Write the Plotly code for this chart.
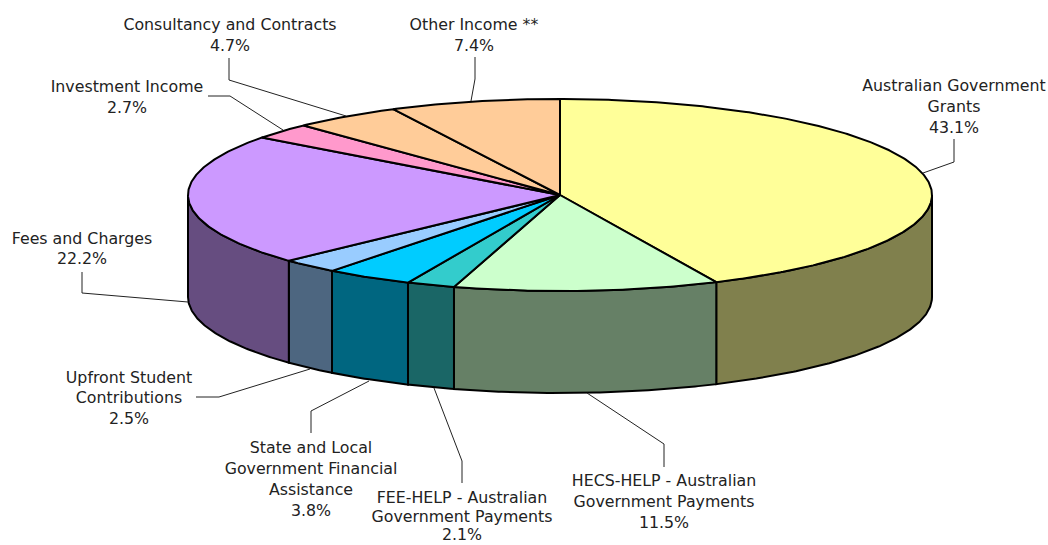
import numpy as np
import plotly.graph_objects as go

categories = ["Australian Government Grants", "HECS-HELP - Australian Government Payments",
              "FEE-HELP - Australian Government Payments", "State and Local Government Financial Assistance",
              "Upfront Student Contributions", "Fees and Charges", "Investment Income",
              "Consultancy and Contracts", "Other Income **"]
values = [43.1, 11.5, 2.1, 3.8, 2.5, 22.2, 2.7, 4.7, 7.4]
top_colors = ["#FFFF99", "#CCFFCC", "#33CCCC", "#00CCFF", "#99CCFF", "#CC99FF", "#FF99CC", "#FFCC99", "#FFCC99"]
side_colors = ["#80804D", "#668066", "#1A6666", "#006680", "#4D6680", "#664D80", "#804D66", "#80664D", "#80664D"]

# Pie geometry in page pixels
CX, CY, RX, RY, DEPTH = 560, 195, 372, 96, 102
OUTLINE = 2
TEXT_DY = 2

# Label lines: (centre x, line centre y, text)
label_lines = [
    (954, 85, "Australian Government"), (954, 106, "Grants"), (954, 127, "43.1%"),
    (664, 480, "HECS-HELP - Australian"), (664, 501, "Government Payments"), (664, 522, "11.5%"),
    (462, 497, "FEE-HELP - Australian"), (462, 516, "Government Payments"), (462, 534, "2.1%"),
    (311, 447, "State and Local"), (311, 468, "Government Financial"), (311, 489, "Assistance"), (311, 510, "3.8%"),
    (129, 377, "Upfront Student"), (129, 397, "Contributions"), (129, 418, "2.5%"),
    (82, 238, "Fees and Charges"), (82, 258, "22.2%"),
    (127, 86, "Investment Income"), (127, 107, "2.7%"),
    (230, 24, "Consultancy and Contracts"), (230, 45, "4.7%"),
    (474, 24, "Other Income **"), (474, 45, "7.4%"),
]
leaders = [
    [(954, 139), (954, 162), (923, 173)],
    [(664, 467), (664, 444), (587, 393)],
    [(462, 483), (462, 461), (434, 388)],
    [(311, 433), (311, 411), (369, 381)],
    [(196, 397), (219, 397), (310, 369)],
    [(82, 272), (82, 293), (188, 302)],
    [(208, 96), (230, 96), (283, 130)],
    [(229, 58), (229, 80), (346, 116)],
    [(475, 57), (475, 79), (471, 101)],
]


def arc(a, b, dy=0.0):
    t = np.radians(np.linspace(a, b, max(2, int(abs(b - a) * 2) + 1)))
    return CX + RX * np.sin(t), CY - RY * np.cos(t) + dy


fig = go.Figure()
edges = np.concatenate([[0], np.cumsum(values)]) / sum(values) * 360

# Side walls: only the front half of the ellipse is visible
for i, name in enumerate(categories):
    a, b = max(edges[i], 90), min(edges[i + 1], 270)
    if a >= b:
        continue
    x1, y1 = arc(a, b)
    x2, y2 = arc(b, a, DEPTH)
    fig.add_trace(go.Scatter(
        x=np.concatenate([x1, x2, x1[:1]]), y=np.concatenate([y1, y2, y1[:1]]),
        mode="lines", fill="toself", fillcolor=side_colors[i], name=name + " side",
        line=dict(color="black", width=OUTLINE), hoverinfo="skip", showlegend=False))

# Top face
for i, name in enumerate(categories):
    x1, y1 = arc(edges[i], edges[i + 1])
    fig.add_trace(go.Scatter(
        x=np.concatenate([[CX], x1, [CX]]), y=np.concatenate([[CY], y1, [CY]]),
        mode="lines", fill="toself", fillcolor=top_colors[i], name=name,
        line=dict(color="black", width=OUTLINE), hoverinfo="skip", showlegend=False))

# Leader lines
for pts in leaders:
    fig.add_trace(go.Scatter(
        x=[p[0] for p in pts], y=[p[1] for p in pts], mode="lines",
        line=dict(color="#222222", width=1), hoverinfo="skip", showlegend=False))

# Labels as one text trace, not clipped to the plot area
fig.add_trace(go.Scatter(
    x=[p[0] for p in label_lines], y=[p[1] + TEXT_DY for p in label_lines], text=[p[2] for p in label_lines],
    mode="text", textposition="middle center", cliponaxis=False,
    textfont=dict(family="DejaVu Sans", size=15.8, color="#222222"),
    hoverinfo="skip", showlegend=False))

fig.update_layout(
    width=1048, height=545, margin=dict(l=0, r=0, t=0, b=0),
    paper_bgcolor="white", plot_bgcolor="white", showlegend=False,
    xaxis=dict(range=[0, 1048], visible=False, domain=[0, 1]),
    yaxis=dict(range=[545, 0], visible=False, domain=[0, 1]),
)
# Remove the browser's default page margin so the figure fills the window exactly
fig.write_html("out.html", config={"displayModeBar": False},
               post_script="document.body.style.margin='0';document.documentElement.style.overflow='hidden';")
